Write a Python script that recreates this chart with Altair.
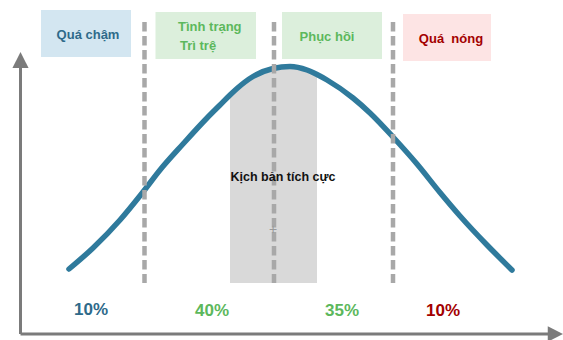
import altair as alt
import pandas as pd

W, H = 563, 340

# bell curve (pixel space)
curve_x = [69, 93, 120, 143, 160, 183, 207, 220, 230, 237, 253, 273, 290, 307, 317, 327, 353, 370, 393, 417, 440, 460, 487, 512]
curve_y = [269, 248, 220, 192, 170, 144, 118, 105, 95, 88.5, 76.5, 68.5, 66.5, 70, 74.5, 80, 98, 113, 137, 164, 192.5, 216, 245, 270]

# scenario band
band_x = [230, 317]
band_base = 283

# dashed separators
sep_x = [144.5, 274, 393]
sep_top, sep_bottom = 22, 283

# header boxes
box_names = ["Quá chậm", "Tình trạng Trì trệ", "Phục hồi", "Quá  nóng"]
box_x1 = [41, 155.5, 282, 403]
box_x2 = [131, 256, 382, 491]
box_y1 = [10, 12, 12, 14]
box_y2 = [57, 59, 59, 61]
box_fill = ["#d3e6f1", "#dcefdc", "#dcefdc", "#fde4e4"]

# header labels
lab_text = ["Quá chậm", "Phục hồi", "Quá \u00a0nóng"]
lab_x = [88, 327, 451]
lab_y = [35, 37, 39]
lab_color = ["#2e6a8a", "#5cb85c", "#a30000"]

two_line_text = ["Tình trạng", "Trì trệ"]
two_line_x = [178, 180]
two_line_y = [27, 46]

# percentages
pct_text = ["10%", "40%", "35%", "10%"]
pct_x = [91, 212, 342, 443]
pct_y = [310, 311, 311, 311]
pct_color = ["#2e6a8a", "#5cb85c", "#5cb85c", "#a30000"]

xs = alt.Scale(domain=[0, W], nice=False, zero=False)
ys = alt.Scale(domain=[0, H], nice=False, zero=False, reverse=True)

def X(f):
    return alt.X(f, type="quantitative", scale=xs, axis=None)

def Y(f):
    return alt.Y(f, type="quantitative", scale=ys, axis=None)

FONT = "Liberation Sans"

boxes = pd.DataFrame(dict(name=box_names, x1=box_x1, x2=box_x2, y1=box_y1, y2=box_y2, fill=box_fill))
box_layer = alt.Chart(boxes).mark_rect().encode(
    x=X("x1"), x2="x2", y=Y("y1"), y2="y2",
    fill=alt.Fill("fill:N", scale=None))

curve = pd.DataFrame(dict(x=curve_x, y=curve_y))
band = curve[(curve.x >= band_x[0]) & (curve.x <= band_x[1])].copy()
band["base"] = band_base
band_layer = alt.Chart(band).mark_area(color="#d9d9d9", interpolate="monotone").encode(
    x=X("x"), y=Y("y"), y2="base")

curve_layer = alt.Chart(curve).mark_line(
    color="#2f7a9c", strokeWidth=5.5, strokeCap="round", interpolate="monotone").encode(
    x=X("x"), y=Y("y"))

seps = pd.DataFrame(dict(x=sep_x, y1=[sep_top] * 3, y2=[sep_bottom] * 3))
sep_layer = alt.Chart(seps).mark_rule(
    color="#a8a8a8", strokeWidth=4.5, strokeDash=[9.5, 4.5]).encode(
    x=X("x"), y=Y("y1"), y2="y2")

labs = pd.DataFrame(dict(t=lab_text, x=lab_x, y=lab_y, c=lab_color))
lab_layer = alt.Chart(labs).mark_text(
    font=FONT, fontSize=13, fontWeight="bold", align="center", baseline="middle").encode(
    x=X("x"), y=Y("y"), text="t:N", color=alt.Color("c:N", scale=None))

two = pd.DataFrame(dict(t=two_line_text, x=two_line_x, y=two_line_y))
two_layer = alt.Chart(two).mark_text(
    font=FONT, fontSize=13, fontWeight="bold", align="left", baseline="middle", color="#5cb85c").encode(
    x=X("x"), y=Y("y"), text="t:N")

pcts = pd.DataFrame(dict(t=pct_text, x=pct_x, y=pct_y, c=pct_color))
pct_layer = alt.Chart(pcts).mark_text(
    font=FONT, fontSize=17, fontWeight="bold", align="center", baseline="middle").encode(
    x=X("x"), y=Y("y"), text="t:N", color=alt.Color("c:N", scale=None))

scen = pd.DataFrame(dict(t=["Kịch bản tích cực"], x=[283], y=[177]))
scen_layer = alt.Chart(scen).mark_text(
    font=FONT, fontSize=12.5, fontWeight="bold", align="center", baseline="middle", color="#111111").encode(
    x=X("x"), y=Y("y"), text="t:N")

plus = pd.DataFrame(dict(t=["+"], x=[273], y=[230]))
plus_layer = alt.Chart(plus).mark_text(
    font=FONT, fontSize=14, align="center", baseline="middle", color="#9a9a9a").encode(
    x=X("x"), y=Y("y"), text="t:N")

# axes with arrows
axes = pd.DataFrame(dict(x1=[20.5, 20.5], x2=[20.5, 550], y1=[334, 334], y2=[62, 334]))
axes_layer = alt.Chart(axes).mark_rule(color="#7b7b7b", strokeWidth=3).encode(
    x=X("x1"), x2="x2", y=Y("y1"), y2="y2")

up = pd.DataFrame(dict(x=[20.5], y=[60]))
up_layer = alt.Chart(up).mark_point(
    shape="M-1,1L0,-1L1,1Z", size=260, filled=True, opacity=1, color="#7b7b7b").encode(
    x=X("x"), y=Y("y"))
right = pd.DataFrame(dict(x=[555.5], y=[334]))
right_layer = alt.Chart(right).mark_point(
    shape="M-1,-1L1,0L-1,1Z", size=240, filled=True, opacity=1, color="#7b7b7b").encode(
    x=X("x"), y=Y("y"))

chart = alt.layer(
    box_layer, band_layer, curve_layer, sep_layer, lab_layer, two_layer,
    pct_layer, scen_layer, plus_layer, axes_layer, up_layer, right_layer
).properties(
    width=W, height=H, padding=0, autosize=alt.AutoSizeParams(type="none"),
    background="white"
).configure_view(stroke=None)

chart.save("out.html", embed_options={"renderer": "svg", "actions": False})
